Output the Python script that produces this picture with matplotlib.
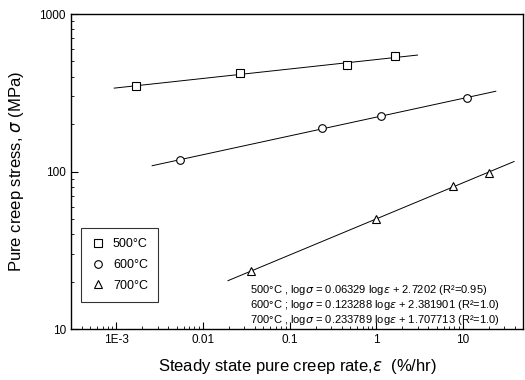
import numpy as np
import matplotlib
matplotlib.use("Agg")
import matplotlib.pyplot as plt
from matplotlib.ticker import FixedLocator, LogLocator, NullFormatter

plt.rcParams['font.family'] = ['Liberation Sans', 'DejaVu Sans']

# measured points
rate_500 = [0.0017, 0.027, 0.46, 1.66]
stress_500 = [349, 422, 474, 541]
rate_600 = [0.0054, 0.235, 1.14, 11.1]
stress_600 = [118, 189, 225, 293]
rate_700 = [0.036, 1.0, 7.6, 20.0]
stress_700 = [23.3, 50, 81, 98]

# drawn ranges of the fit lines
span_500 = (9.5e-4, 3.0)
span_600 = (2.6e-3, 24)
span_700 = (0.0195, 39)

labels = ['500°C', '600°C', '700°C']
eq_text = [
    '500°C , log$\\sigma$ = 0.06329 log$\\varepsilon$ + 2.7202 (R²=0.95)',
    '600°C ; log$\\sigma$ = 0.123288 log$\\varepsilon$ + 2.381901 (R²=1.0)',
    '700°C , log$\\sigma$ = 0.233789 log$\\varepsilon$ + 1.707713 (R²=1.0)',
]

fig = plt.figure(figsize=(5.25, 3.8), dpi=100)
ax = fig.add_axes([0.135, 0.134, 0.862, 0.829])

markers = ['s', 'o', '^']
data = [(rate_500, stress_500, span_500),
        (rate_600, stress_600, span_600),
        (rate_700, stress_700, span_700)]

handles = []
for (x, y, span), m, lab in zip(data, markers, labels):
    k, b = np.polyfit(np.log10(x), np.log10(y), 1)
    xs = np.logspace(np.log10(span[0]), np.log10(span[1]), 50)
    ys = 10 ** (k * np.log10(xs) + b)
    ax.plot(xs, ys, color='black', lw=0.7)
    h, = ax.plot(x, y, linestyle='none', marker=m, markersize=5.5,
                 markerfacecolor='white', markeredgecolor='black',
                 markeredgewidth=0.8, label=lab)
    handles.append(h)

ax.set_xscale('log')
ax.set_yscale('log')
ax.set_xlim(3e-4, 50)
ax.set_ylim(10, 1000)

ax.xaxis.set_major_locator(FixedLocator([1e-3, 1e-2, 1e-1, 1, 10]))
ax.set_xticklabels(['1E-3', '0.01', '0.1', '1', '10'])
ax.xaxis.set_minor_locator(LogLocator(base=10, subs=np.arange(2, 10)))
ax.xaxis.set_minor_formatter(NullFormatter())
ax.yaxis.set_major_locator(FixedLocator([10, 100, 1000]))
ax.set_yticklabels(['10', '100', '1000'])
ax.yaxis.set_minor_locator(LogLocator(base=10, subs=np.arange(2, 10)))
ax.yaxis.set_minor_formatter(NullFormatter())

ax.tick_params(which='major', direction='in', length=5, width=0.8, labelsize=8.5,
               top=False, right=False)
ax.tick_params(which='minor', direction='in', length=2.5, width=0.6,
               top=False, right=False)
for s in ax.spines.values():
    s.set_linewidth(1.0)

ax.set_xlabel('Steady state pure creep rate,$\\varepsilon$  (%/hr)', fontsize=12, labelpad=8)
ax.set_ylabel('Pure creep stress, $\\sigma$ (MPa)', fontsize=12, labelpad=10)

leg = ax.legend(handles=handles, loc='lower left', bbox_to_anchor=(0.013, 0.075),
                frameon=True, fancybox=False, edgecolor='black', fontsize=9,
                handletextpad=0.6, borderpad=0.8, labelspacing=0.7, handlelength=1.2,
                borderaxespad=0.3)
leg.get_frame().set_linewidth(0.8)

for i, t in enumerate(eq_text):
    ax.text(0.395, 0.124 - i * 0.048, t, transform=ax.transAxes, fontsize=8.0,
            va='center', ha='left')

fig.savefig('out.png', dpi=100)
